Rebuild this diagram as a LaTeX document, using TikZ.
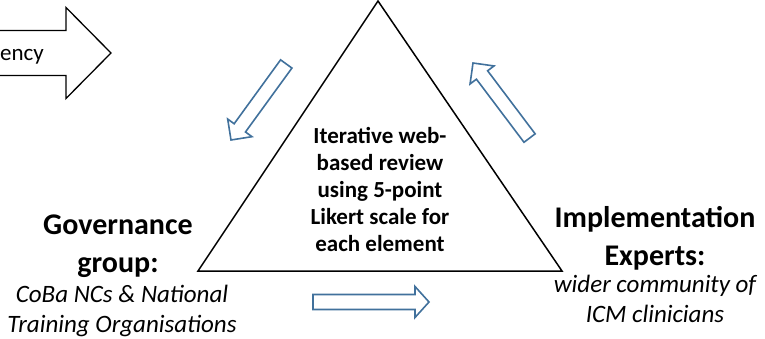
\documentclass[tikz,border=0pt]{standalone}
\usepackage{fontspec}
\setmainfont{Carlito}
\usetikzlibrary{positioning}
\definecolor{arrowblue}{HTML}{41719C}

\begin{document}
\begin{tikzpicture}[x=1pt, y=-1pt,
        % block arrow with its tip at the origin: length, half shaft, half head, head length
        pics/blockarrow/.style n args={4}{code={
            \path[pic actions] (0,0) -- (-#4,#3) -- (-#4,#2) -- (-#1,#2) -- (-#1,-#2)
                -- (-#4,-#2) -- (-#4,-#3) -- cycle;}},
        leadarrow/.style={draw, line width=1.3pt, line join=miter},
        flowarrow/.style={draw=arrowblue, line width=1.6pt, fill=white, line join=miter},
        centretext/.style={font=\bfseries\fontsize{23}{27}\selectfont, align=center, inner sep=0pt},
        grouptitle/.style={font=\bfseries\fontsize{30}{38}\selectfont, align=center, inner sep=0pt},
        groupsub/.style={font=\itshape\fontsize{25}{30}\selectfont, align=center, inner sep=0pt}
    ]
        \useasboundingbox (0,0) rectangle (765,339);
        \clip (0,0) rectangle (765,339);

        % lead-in arrow, cut at the left edge
        \pic[leadarrow] (lead) at (111,53) {blockarrow={200}{22.5}{45.5}{45}};
        \node[font=\fontsize{23}{27}\selectfont, anchor=base east, inner sep=0pt] (leadtxt) at (44,61) {ency};

        % review triangle
        \coordinate (apex)  at (378,1);
        \coordinate (left)  at (198,271);
        \coordinate (right) at (562,271);
        \draw[line width=1.5pt, line join=miter] (apex) -- (left) -- (right) -- cycle;
        \node[centretext] (review) at (380,189) {Iterative web-\\based review\\using 5-point\\Likert scale for\\each element};

        % the two groups
        \node[grouptitle] (gov)     at (118,246) {Governance\\group:};
        \node[groupsub]   (govsub)  at (122,311) {CoBa NCs \& National\\Training Organisations};
        \node[grouptitle] (impl)    at (655,238) {Implementation\\Experts:};
        \node[groupsub]   (implsub) at (655,299) {wider community of\\ICM clinicians};

        % cycle arrows
        \pic[flowarrow, rotate=234] (togov)  at (231,140) {blockarrow={94}{7}{15}{15}};
        \pic[flowarrow]             (toimpl) at (429,302) {blockarrow={116}{7.5}{15.5}{14}};
        \pic[flowarrow, rotate=127] (toapex) at (473,63)  {blockarrow={94}{7}{15}{15}};
    \end{tikzpicture}
\end{document}
